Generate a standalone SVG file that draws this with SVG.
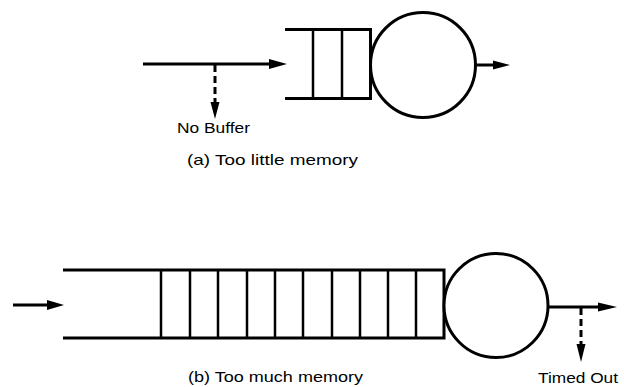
<svg xmlns="http://www.w3.org/2000/svg" width="624" height="387" viewBox="0 0 624 387">
<style>
.ln{stroke:#000;stroke-width:3;fill:none;stroke-linecap:butt}
.cell{stroke:#000;stroke-width:2.5;fill:none}
.srv{stroke:#000;stroke-width:3;fill:#fff}
.dash{stroke:#000;stroke-width:3;fill:none;stroke-dasharray:7 4}
.head{fill:#000}
text{font-family:"Liberation Sans",Arial,sans-serif;fill:#000}
.lbl{font-size:14.5px}
.cap{font-size:15px}
</style>
<rect width="624" height="387" fill="#fff"/>
<g id="queue-a">
<path class="ln" d="M285 29.5H370.5V98.5H285"/>
<path class="cell" d="M313 29.5V98.5M342 29.5V98.5"/>
</g>
<g id="server-a"><circle class="srv" cx="423" cy="65" r="52.5"/></g>
<g id="queue-b">
<path class="ln" d="M63 270H444V338H63"/>
<path class="cell" d="M161 270V338M190 270V338M218 270V338M247 270V338M275 270V338M303 270V338M332 270V338M360 270V338M388 270V338M416 270V338"/>
</g>
<g id="server-b"><circle class="srv" cx="496" cy="305.5" r="52"/></g>
<g id="connectors">
<line class="ln" x1="143" y1="64" x2="271" y2="64"/>
<polygon class="head" points="269,59 287,64 269,69"/>
<line class="dash" x1="215" y1="65" x2="215" y2="104"/>
<polygon class="head" points="210.5,102 219.5,102 215,119"/>
<line class="ln" x1="475" y1="65" x2="495" y2="65"/>
<polygon class="head" points="493,60.5 510,65 493,69.5"/>
<line class="ln" x1="13" y1="305" x2="49" y2="305"/>
<polygon class="head" points="47,300 64,305 47,310"/>
<line class="ln" x1="548" y1="307" x2="600" y2="307"/>
<polygon class="head" points="598,302.5 617,307 598,311.5"/>
<line class="dash" x1="581" y1="308" x2="581" y2="346"/>
<polygon class="head" points="576.5,344 585.5,344 581,362"/>
</g>
<g id="labels">
<text class="lbl" x="177" y="133" textLength="73" lengthAdjust="spacingAndGlyphs">No Buffer</text>
<text class="cap" x="187" y="165" textLength="171" lengthAdjust="spacingAndGlyphs">(a) Too little memory</text>
<text class="cap" x="188" y="382" textLength="175" lengthAdjust="spacingAndGlyphs">(b) Too much memory</text>
<text class="cap" x="538" y="383" textLength="80" lengthAdjust="spacingAndGlyphs">Timed Out</text>
</g>
</svg>
